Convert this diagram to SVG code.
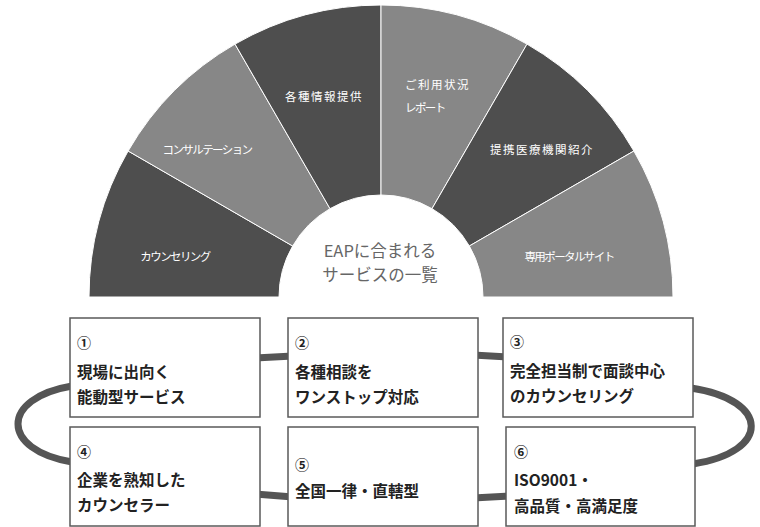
<svg xmlns="http://www.w3.org/2000/svg" width="760" height="527" viewBox="0 0 760 527">
<style>
.dk{fill:#4e4e4e;stroke:#fff;stroke-width:1}
.lt{fill:#878787;stroke:#fff;stroke-width:1}
.sl{font-family:"Noto Sans CJK JP","Noto Sans",sans-serif;font-size:11.5px;fill:#fff}
.kj{letter-spacing:1.5px}
.kt{font-size:11.5px;letter-spacing:-1.6px}
.ctr{font-family:"Noto Sans CJK JP","Noto Sans",sans-serif;font-size:16.5px;fill:#666;text-anchor:middle}
.box{fill:#fff;stroke:#5a5a5a;stroke-width:1.5}
.bt{font-family:"Noto Sans CJK JP","Noto Sans",sans-serif;font-size:15.5px;font-weight:bold;fill:#222}
.num{font-size:14px}
.cn{fill:none;stroke:#555;stroke-width:7}
</style>
<g id="wheel">
<g id="s1"><path class="dk" d="M89,297 A292,292 0 0 1 128.12,151 L292.67,246 A102,102 0 0 0 279,297 Z"/><text class="sl kt" x="175" y="261" text-anchor="middle">カウンセリング</text></g>
<g id="s2"><path class="lt" d="M128.12,151 A292,292 0 0 1 235,44.12 L330,208.67 A102,102 0 0 0 292.67,246 Z"/><text class="sl kt" x="207" y="154" text-anchor="middle">コンサルテーション</text></g>
<g id="s3"><path class="dk" d="M235,44.12 A292,292 0 0 1 381,5 L381,195 A102,102 0 0 0 330,208.67 Z"/><text class="sl kj" x="324" y="101" text-anchor="middle">各種情報提供</text></g>
<g id="s4"><path class="lt" d="M381,5 A292,292 0 0 1 527,44.12 L432,208.67 A102,102 0 0 0 381,195 Z"/><text class="sl kj" x="405" y="89">ご利用状況</text><text class="sl kt" x="405" y="112">レポート</text></g>
<g id="s5"><path class="dk" d="M527,44.12 A292,292 0 0 1 633.88,151 L469.33,246 A102,102 0 0 0 432,208.67 Z"/><text class="sl kj" x="542" y="154" text-anchor="middle">提携医療機関紹介</text></g>
<g id="s6"><path class="lt" d="M633.88,151 A292,292 0 0 1 673,297 L483,297 A102,102 0 0 0 469.33,246 Z"/><text class="sl kt" x="569" y="261" text-anchor="middle">専用ポータルサイト</text></g>
<g id="center"><text class="ctr" x="380" y="257">EAPに合まれる</text><text class="ctr" x="380" y="281">サービスの一覧</text></g>
</g>
<g id="connectors">
<path class="cn" d="M255,358 L293,356"/>
<path class="cn" d="M473,355 L508,357"/>
<path class="cn" d="M255,494 L293,497"/>
<path class="cn" d="M473,498 L511,496"/>
<path class="cn" d="M72,386 C0,398 0,450 72,462"/>
<path class="cn" d="M691,388 C771,400 771,452 693,464"/>
</g>
<g id="n1"><rect class="box" x="70" y="318" width="190" height="99"/><text class="bt" x="77"><tspan class="num" x="77" y="348">①</tspan><tspan x="77" y="378">現場に出向く</tspan><tspan x="77" y="403">能動型サービス</tspan></text></g>
<g id="n2"><rect class="box" x="288" y="318" width="190" height="99"/><text class="bt" x="295"><tspan class="num" x="295" y="348">②</tspan><tspan x="295" y="378">各種相談を</tspan><tspan x="295" y="403">ワンストップ対応</tspan></text></g>
<g id="n3"><rect class="box" x="503" y="318" width="190" height="99"/><text class="bt" x="510"><tspan class="num" x="510" y="347">③</tspan><tspan x="510" y="377">完全担当制で面談中心</tspan><tspan x="510" y="402">のカウンセリング</tspan></text></g>
<g id="n4"><rect class="box" x="70" y="427" width="190" height="99"/><text class="bt" x="77"><tspan class="num" x="77" y="457">④</tspan><tspan x="77" y="486">企業を熟知した</tspan><tspan x="77" y="511">カウンセラー</tspan></text></g>
<g id="n5"><rect class="box" x="288" y="427" width="190" height="99"/><text class="bt" x="295"><tspan class="num" x="295" y="470">⑤</tspan><tspan x="295" y="497">全国一律・直轄型</tspan></text></g>
<g id="n6"><rect class="box" x="506" y="427" width="189" height="99"/><text class="bt" x="514"><tspan class="num" x="514" y="457">⑥</tspan><tspan x="514" y="486">ISO9001・</tspan><tspan x="514" y="512">高品質・高満足度</tspan></text></g>
</svg>
